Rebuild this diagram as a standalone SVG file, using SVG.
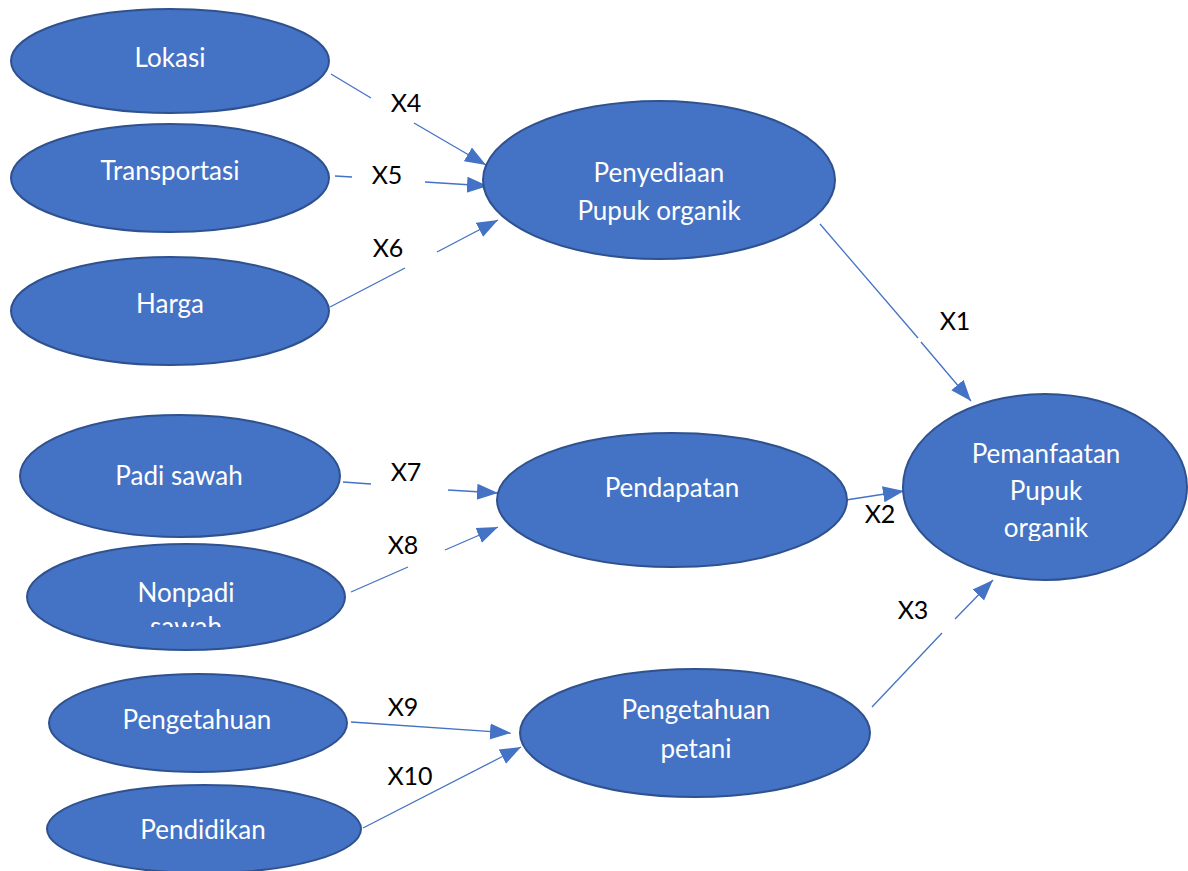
<svg xmlns="http://www.w3.org/2000/svg" width="1188" height="871" viewBox="0 0 1188 871">
<style>
.node ellipse{fill:#4472C4;stroke:#2F528F;stroke-width:2}
.nt{font-family:Lato,"Open Sans",sans-serif;font-size:26px;fill:#ffffff;text-anchor:middle}
.lbl{font-family:Lato,"Open Sans",sans-serif;font-size:25px;fill:#000000;text-anchor:middle}
.c line{stroke:#4472C4;stroke-width:1.3;fill:none}
</style>
<defs>
<marker id="arr" markerUnits="userSpaceOnUse" markerWidth="22" markerHeight="18" viewBox="0 0 22 18" refX="21" refY="9" orient="auto">
<path d="M0,1 L21,9 L0,17 Z" fill="#4472C4"/>
</marker>
<clipPath id="clipNon"><rect x="0" y="0" width="1188" height="627"/></clipPath>
<clipPath id="clipPem"><rect x="0" y="0" width="1188" height="541"/></clipPath>
</defs>
<rect width="1188" height="871" fill="#ffffff"/>

<g class="c" id="connectors">
<line x1="331" y1="74" x2="371" y2="98"/>
<line x1="414" y1="123" x2="486" y2="165" marker-end="url(#arr)"/>
<line x1="335" y1="176" x2="352" y2="177"/>
<line x1="425" y1="182" x2="488" y2="186" marker-end="url(#arr)"/>
<line x1="330" y1="307" x2="405" y2="268"/>
<line x1="437" y1="252" x2="498" y2="220" marker-end="url(#arr)"/>
<line x1="820" y1="224" x2="918" y2="338"/>
<line x1="921" y1="342" x2="971" y2="401" marker-end="url(#arr)"/>
<line x1="343" y1="482" x2="371" y2="484"/>
<line x1="448" y1="490" x2="498" y2="493" marker-end="url(#arr)"/>
<line x1="351" y1="592" x2="408" y2="567"/>
<line x1="445" y1="550" x2="498" y2="527" marker-end="url(#arr)"/>
<line x1="846" y1="500" x2="904" y2="491" marker-end="url(#arr)"/>
<line x1="351" y1="722" x2="511" y2="733" marker-end="url(#arr)"/>
<line x1="363" y1="828" x2="521" y2="747" marker-end="url(#arr)"/>
<line x1="872" y1="707" x2="942" y2="633"/>
<line x1="955" y1="619" x2="993" y2="580" marker-end="url(#arr)"/>
</g>

<g id="labels">
<text class="lbl" x="406" y="112">X4</text>
<text class="lbl" x="387" y="184">X5</text>
<text class="lbl" x="388" y="257">X6</text>
<text class="lbl" x="955" y="330">X1</text>
<text class="lbl" x="406" y="481">X7</text>
<text class="lbl" x="403" y="554">X8</text>
<text class="lbl" x="880" y="523">X2</text>
<text class="lbl" x="913" y="619">X3</text>
<text class="lbl" x="403" y="716">X9</text>
<text class="lbl" x="410" y="785">X10</text>
</g>

<g class="node" id="n-lokasi">
<ellipse cx="170" cy="61" rx="159" ry="52"/>
<text class="nt" x="170" y="67">Lokasi</text>
</g>
<g class="node" id="n-transportasi">
<ellipse cx="170" cy="178" rx="159" ry="54"/>
<text class="nt" x="170" y="180">Transportasi</text>
</g>
<g class="node" id="n-harga">
<ellipse cx="170" cy="311" rx="159" ry="54"/>
<text class="nt" x="170" y="313">Harga</text>
</g>
<g class="node" id="n-penyediaan">
<ellipse cx="659" cy="180" rx="176" ry="79"/>
<text class="nt" x="659" y="182">Penyediaan</text>
<text class="nt" x="659" y="220">Pupuk organik</text>
</g>
<g class="node" id="n-padi">
<ellipse cx="180" cy="476" rx="160" ry="61"/>
<text class="nt" x="179" y="485">Padi sawah</text>
</g>
<g class="node" id="n-nonpadi">
<ellipse cx="186" cy="597" rx="159" ry="53"/>
<g clip-path="url(#clipNon)">
<text class="nt" x="186" y="602">Nonpadi</text>
<text class="nt" x="186" y="636">sawah</text>
</g>
</g>
<g class="node" id="n-pendapatan">
<ellipse cx="672" cy="500" rx="175" ry="67"/>
<text class="nt" x="672" y="497">Pendapatan</text>
</g>
<g class="node" id="n-pengetahuan">
<ellipse cx="198" cy="723" rx="149" ry="49"/>
<text class="nt" x="197" y="729">Pengetahuan</text>
</g>
<g class="node" id="n-pendidikan">
<ellipse cx="204" cy="829" rx="157" ry="44"/>
<text class="nt" x="203" y="839">Pendidikan</text>
</g>
<g class="node" id="n-petani">
<ellipse cx="695" cy="733" rx="175" ry="64"/>
<text class="nt" x="696" y="719">Pengetahuan</text>
<text class="nt" x="696" y="758">petani</text>
</g>
<g class="node" id="n-pemanfaatan">
<ellipse cx="1045" cy="487" rx="142" ry="93"/>
<g clip-path="url(#clipPem)">
<text class="nt" x="1046" y="463">Pemanfaatan</text>
<text class="nt" x="1046" y="500">Pupuk</text>
<text class="nt" x="1046" y="537">organik</text>
</g>
</g>
</svg>
